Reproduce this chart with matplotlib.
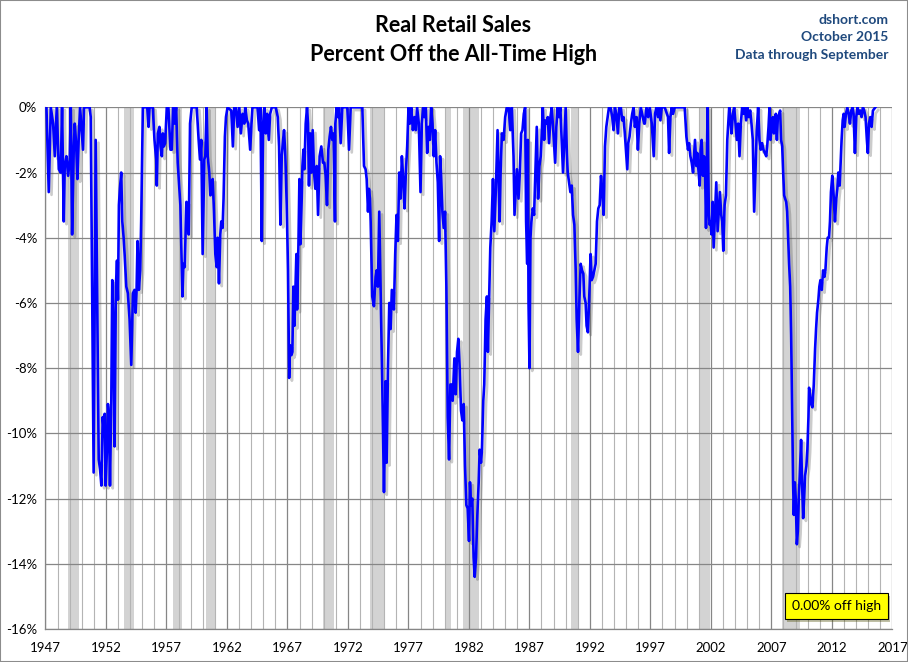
import matplotlib
matplotlib.use("Agg")
import matplotlib.pyplot as plt
import matplotlib.patheffects as pe
from matplotlib.patches import Rectangle
from matplotlib.ticker import MultipleLocator
import numpy as np

plt.rcParams['font.family'] = ['Lato', 'DejaVu Sans']

# --- data (decimal year, % off the all-time high) ---
yr_a = [1947.08, 1947.27, 1947.44, 1947.63, 1947.77, 1947.93, 1948.10, 1948.26, 1948.37, 1948.51,
        1948.59, 1948.73, 1948.87, 1949.01, 1949.09, 1949.20, 1949.34, 1949.42, 1949.53, 1949.64,
        1949.75, 1949.86, 1949.97, 1950.10, 1950.19, 1950.65, 1950.74, 1950.98, 1951.15, 1951.40,
        1951.51, 1951.62, 1951.73, 1951.84, 1951.89, 1951.97, 1952.08, 1952.16, 1952.25, 1952.33,
        1952.44, 1952.52, 1952.63, 1952.71, 1952.82, 1952.91, 1952.99, 1953.07, 1953.15, 1953.26,
        1953.35, 1953.46, 1953.54, 1953.68, 1953.81, 1953.95, 1954.09, 1954.23, 1954.36, 1954.45,
        1954.53, 1954.61, 1954.72, 1954.83, 1954.91, 1955.05, 1955.24, 1955.41, 1955.52, 1955.60,
        1955.87, 1956.01, 1956.15, 1956.20, 1956.29, 1956.42, 1956.51, 1956.62, 1956.70, 1956.78,
        1956.89, 1957.03, 1957.16, 1957.33, 1957.44, 1957.55, 1957.66, 1957.80, 1957.93, 1958.07,
        1958.15, 1958.21, 1958.32, 1958.40, 1958.51, 1958.65, 1958.76, 1958.84]
pct_a = [0, -2.6, 0, -0.5, -1.5, 0, -1.9, -2.0, 0, -3.5,
         -1.8, -1.5, -2.1, -1.6, 0, -3.9, -1.2, -0.5, -1.1, -2.2,
         -0.9, 0, -0.6, -1.3, 0, 0, -0.3, -11.2, -1.0, -10.8,
         -11.1, -11.6, -9.5, -10.0, -9.4, -11.6, -10.5, -9.1, -9.5, -11.6,
         -9.0, -5.3, -7.0, -10.4, -5.5, -4.7, -5.9, -3.0, -2.5, -2.0,
         -3.5, -4.0, -4.5, -5.5, -5.7, -6.5, -7.9, -5.7, -5.6, -6.3,
         -5.6, -4.1, -5.6, -5.0, -3.5, 0, 0, 0, -0.6, 0,
         0, -1.0, -1.6, -2.4, -0.8, -0.6, -1.2, -1.5, -0.8, -1.2,
         -1.1, 0, 0, -1.3, -1.3, 0, -0.5, 0, -1.7, -2.5,
         -3.0, -4.0, -5.8, -4.8, -4.9, -2.9, -3.0, -3.9]

yr_b = [1958.95, 1959.09, 1959.50, 1959.66, 1959.77, 1959.88, 1959.99, 1960.13, 1960.21, 1960.32,
        1960.41, 1960.54, 1960.63, 1960.74, 1960.82, 1960.93, 1961.04, 1961.15, 1961.23, 1961.34,
        1961.45, 1961.53, 1961.64, 1961.72, 1961.83, 1961.92, 1962.05, 1962.36, 1962.49, 1962.60,
        1962.74, 1962.88, 1963.02, 1963.15, 1963.29, 1963.43, 1963.51, 1963.65, 1963.76, 1963.92,
        1964.03, 1964.11, 1964.53, 1964.66, 1964.77, 1964.88, 1964.99, 1965.10, 1965.21, 1965.32,
        1965.46, 1965.57, 1965.71, 1966.04, 1966.20, 1966.31, 1966.42, 1966.53, 1966.64, 1966.72,
        1966.83, 1966.94, 1967.05, 1967.14, 1967.22, 1967.33, 1967.41, 1967.49, 1967.58, 1967.66,
        1967.74, 1967.80, 1967.91, 1967.99, 1968.07, 1968.18, 1968.24, 1968.32, 1968.40, 1968.51,
        1968.62, 1968.70, 1968.78, 1968.89, 1968.98, 1969.09, 1969.20, 1969.31, 1969.42, 1969.53,
        1969.66, 1969.80, 1969.94, 1970.05, 1970.16, 1970.27, 1970.38, 1970.49, 1970.60, 1970.71,
        1970.82, 1970.93]
pct_b = [-0.5, 0, 0, -1.0, -1.6, -1.0, -4.5, -1.6, -1.5, 0,
         -1.5, -2.0, -2.7, -2.6, -2.2, -3.2, -4.5, -4.9, -4.0, -5.4,
         -3.9, -3.5, -3.7, -2.8, -0.9, -0.3, 0, -0.1, -1.2, 0,
         0, -0.6, 0, -0.8, -0.2, -0.5, 0, -0.4, -0.5, -1.3,
         -0.5, 0, 0, -0.7, 0, -4.1, -0.5, 0, -0.8, -0.2,
         -1.0, -0.2, 0, 0, -0.3, -1.2, -3.6, -1.5, -1.0, -0.7,
         -1.5, -3.0, -5.0, -8.3, -7.3, -7.6, -7.5, -5.5, -6.7, -5.6,
         -4.5, -6.2, -4.2, -2.2, -4.2, -2.8, -1.8, -1.3, -1.9, -0.5,
         0, -0.5, -2.4, -0.8, -2.0, -0.7, -2.0, -2.5, -1.8, -3.3,
         -1.5, -1.2, -1.7, -1.7, -2.1, -3.0, -1.3, -0.9, -0.6, -1.0,
         -0.8, -3.5]

yr_c = [1970.96, 1971.07, 1971.18, 1971.27, 1971.40, 1971.54, 1971.95, 1972.09, 1972.23, 1973.19,
        1973.33, 1973.46, 1973.55, 1973.66, 1973.74, 1973.82, 1973.88, 1974.01, 1974.15, 1974.29,
        1974.37, 1974.48, 1974.59, 1974.70, 1974.84, 1974.98, 1975.06, 1975.11, 1975.20, 1975.31,
        1975.42, 1975.53, 1975.63, 1975.74, 1975.80, 1975.91, 1976.02, 1976.13, 1976.24, 1976.35,
        1976.46, 1976.57, 1976.68, 1976.79, 1976.90, 1977.01, 1977.12, 1977.23, 1977.37, 1977.50,
        1977.61, 1977.72, 1977.86, 1978.00, 1978.11, 1978.22, 1978.33, 1978.44, 1978.55, 1978.66,
        1978.77, 1978.88, 1978.99, 1979.10, 1979.21, 1979.32, 1979.43, 1979.54, 1979.62, 1979.70,
        1979.81, 1979.92, 1980.03, 1980.14, 1980.25, 1980.36, 1980.47, 1980.58, 1980.66, 1980.80,
        1980.91, 1981.02, 1981.13, 1981.24, 1981.35, 1981.46, 1981.57, 1981.68, 1981.79, 1981.90,
        1982.01, 1982.09, 1982.17, 1982.28, 1982.39, 1982.48, 1982.59, 1982.70, 1982.81, 1982.89,
        1983.00, 1983.08, 1983.19, 1983.27, 1983.38, 1983.49, 1983.57, 1983.66, 1983.77, 1983.88,
        1983.99, 1984.10, 1984.23, 1984.37, 1984.54]
pct_c = [-0.5, 0, -0.3, 0, -1.1, 0, 0, -1.3, 0, 0,
         -1.8, -1.9, -2.2, -3.2, -2.5, -2.8, -3.5, -5.8, -6.1, -5.2,
         -5.0, -5.5, -3.2, -5.5, -8.5, -11.8, -10.0, -8.4, -10.9, -8.0,
         -6.0, -6.8, -5.6, -6.0, -6.2, -4.5, -3.3, -4.1, -2.0, -2.8,
         -1.5, -2.2, -3.1, -2.0, -1.2, 0, -0.5, 0, -0.7, -0.3,
         -0.7, 0, -0.5, -2.6, -0.5, 0, -0.3, 0, -1.4, -0.6,
         -1.0, 0, -0.5, -1.5, -0.7, -1.7, -2.3, -4.1, -1.5, -2.1,
         -3.2, -3.7, -3.2, -5.5, -9.5, -10.8, -8.5, -8.5, -9.0, -7.7,
         -8.8, -7.5, -7.1, -8.0, -9.3, -9.6, -9.1, -11.0, -12.2, -12.3,
         -13.3, -11.5, -12.2, -12.0, -13.8, -14.4, -13.8, -12.5, -11.5, -10.5,
         -10.9, -10.5, -9.0, -8.5, -6.5, -5.8, -7.5, -6.0, -4.3, -3.5,
         -2.2, -3.8, -2.5, -0.7, -3.5]

yr_d = [1984.62, 1984.73, 1984.87, 1985.00, 1985.14, 1985.28, 1985.42, 1985.55, 1985.69, 1985.77,
        1985.88, 1985.97, 1986.10, 1986.21, 1986.32, 1986.43, 1986.54, 1986.65, 1986.73, 1986.82,
        1986.87, 1986.93, 1987.01, 1987.09, 1987.17, 1987.28, 1987.39, 1987.50, 1987.61, 1987.72,
        1987.83, 1987.94, 1988.03, 1988.11, 1988.22, 1988.30, 1988.44, 1988.52, 1988.63, 1988.74,
        1988.85, 1988.99, 1989.13, 1989.23, 1989.34, 1989.45, 1989.56, 1989.67, 1989.78, 1989.89,
        1990.00, 1990.09, 1990.17, 1990.28, 1990.39, 1990.50, 1990.61, 1990.72, 1990.83, 1990.91,
        1991.02, 1991.13, 1991.24, 1991.35, 1991.46, 1991.54, 1991.65, 1991.73, 1991.84, 1991.95,
        1992.06, 1992.15, 1992.26, 1992.37, 1992.48, 1992.59, 1992.70, 1992.81, 1992.92, 1993.03,
        1993.14, 1993.25, 1993.36, 1993.47, 1993.58, 1993.71, 1993.85, 1993.96, 1994.07, 1994.18,
        1994.32, 1994.43, 1994.56, 1994.67, 1994.78, 1994.89, 1995.00, 1995.09, 1995.17, 1995.28,
        1995.39, 1995.50, 1995.61, 1995.72, 1995.86, 1995.97, 1996.08, 1996.21, 1996.38, 1996.49]
pct_d = [-2.0, -0.8, -1.0, -0.3, 0, 0, -0.7, 0, -1.5, -3.3,
         -2.5, -1.9, -2.8, -2.0, -0.8, -0.7, -0.2, 0, -3.5, -4.8,
         -1.0, -6.0, -8.0, -4.0, -3.5, -3.1, -3.3, -2.0, -0.6, -2.8,
         -1.8, -1.5, -0.8, 0, -1.0, -0.4, -0.5, -0.3, -1.1, -0.3,
         0, -0.8, -1.7, -0.6, 0, -0.3, 0, -1.0, -2.0, -1.0,
         0, -1.3, -2.0, -2.3, -2.6, -2.4, -3.3, -3.6, -5.0, -6.5,
         -7.5, -6.0, -4.8, -5.0, -5.1, -5.8, -6.0, -6.7, -6.9, -5.8,
         -4.5, -5.3, -5.2, -5.0, -4.8, -3.5, -3.1, -3.0, -2.1, -2.6,
         -3.3, -1.2, -0.6, -0.3, 0, 0, -0.3, -0.7, 0, -0.2,
         -0.8, 0, 0, -0.4, -0.3, -0.8, -1.4, -1.9, -1.1, -0.9,
         -0.5, -0.2, 0, -0.6, -0.3, -1.3, -0.5, 0, -0.3, -0.5]

yr_e = [1996.54, 1996.68, 1996.82, 1996.95, 1997.12, 1997.28, 1997.39, 1997.50, 1997.64, 1997.72,
        1997.83, 1997.94, 1998.19, 1998.46, 1998.55, 1998.66, 1998.77, 1998.88, 1999.01, 1999.84,
        1999.98, 2000.11, 2000.20, 2000.31, 2000.42, 2000.53, 2000.61, 2000.69, 2000.80, 2000.88,
        2000.97, 2001.08, 2001.16, 2001.24, 2001.35, 2001.43, 2001.51, 2001.60, 2001.65, 2001.73,
        2001.79, 2001.84, 2001.90, 2001.98, 2002.06, 2002.15, 2002.23, 2002.34, 2002.45, 2002.56,
        2002.64, 2002.75, 2002.86, 2002.94, 2003.03, 2003.14, 2003.25, 2003.36, 2003.44, 2003.52,
        2003.60, 2003.71, 2003.82, 2003.93, 2004.04, 2004.15, 2004.26, 2004.37, 2004.48, 2004.59,
        2004.70, 2004.81, 2004.92, 2005.03, 2005.14, 2005.25, 2005.36, 2005.47, 2005.58, 2005.69,
        2005.80, 2005.91, 2006.02, 2006.13, 2006.24, 2006.35, 2006.46]
pct_e = [-0.5, 0, -0.3, 0, -0.5, -1.5, -0.2, 0, -0.3, 0,
         -0.4, 0, 0, -0.3, -1.4, -0.3, 0, -0.2, 0, 0,
         -0.9, -1.3, -1.1, -1.5, -1.7, -2.0, -1.5, -1.0, -1.8, -1.4,
         -1.9, -2.4, -1.3, -1.0, -2.1, -1.5, -1.6, -3.7, -2.5, 0,
         -2.0, -3.3, -3.6, -3.5, -3.9, -2.9, -4.3, -3.3, -2.3, -3.8,
         -3.3, -2.6, -3.3, -3.5, -4.4, -3.0, -2.7, -1.0, -0.5, 0,
         -0.3, -0.8, -0.2, 0, -0.5, -1.0, -0.5, -1.5, -0.5, 0,
         -0.2, 0, -0.4, 0, -0.3, -0.1, -0.5, -1.0, -3.2, -2.0,
         -0.7, 0, -1.0, -1.3, -1.1, -1.3, -1.4]

yr_f = [2006.58, 2006.66, 2006.77, 2006.85, 2006.93, 2007.04, 2007.13, 2007.21, 2007.29, 2007.37,
        2007.46, 2007.54, 2007.65, 2007.73, 2007.81, 2007.90, 2007.98, 2008.06, 2008.14, 2008.23,
        2008.31, 2008.39, 2008.47, 2008.56, 2008.64, 2008.72, 2008.80, 2008.86, 2008.94, 2009.02,
        2009.11, 2009.19, 2009.27, 2009.35, 2009.46, 2009.54, 2009.63, 2009.71, 2009.79, 2009.90,
        2009.98, 2010.07, 2010.12, 2010.20, 2010.29, 2010.40, 2010.51, 2010.62, 2010.70, 2010.78,
        2010.89, 2010.97, 2011.06, 2011.17, 2011.28, 2011.39, 2011.47, 2011.58, 2011.66, 2011.77,
        2011.85, 2011.93, 2012.04, 2012.15, 2012.26, 2012.37, 2012.46, 2012.54, 2012.65, 2012.73,
        2012.81, 2012.90, 2012.98, 2013.06, 2013.17, 2013.28, 2013.39, 2013.50, 2013.61, 2013.72,
        2013.80, 2013.91, 2014.02, 2014.13, 2014.24, 2014.35, 2014.46, 2014.57, 2014.68, 2014.79,
        2014.90, 2014.98, 2015.07, 2015.18, 2015.29, 2015.40, 2015.60]
pct_f = [-1.5, -1.2, -0.6, 0, -1.0, -0.5, -0.3, -0.8, -0.7, -0.2,
         -1.0, -0.3, -0.2, -0.1, -1.0, -1.2, -2.0, -2.7, -2.8, -2.9,
         -3.2, -4.0, -4.8, -5.5, -7.0, -9.3, -11.5, -12.5, -11.5, -12.0,
         -13.4, -13.0, -12.0, -11.3, -10.2, -11.5, -12.6, -12.0, -11.3, -11.0,
         -10.5, -9.5, -8.6, -8.8, -9.1, -9.2, -8.5, -7.4, -6.8, -6.3,
         -5.9, -5.5, -5.3, -5.6, -5.0, -5.2, -5.0, -4.3, -4.0, -4.0,
         -3.5, -2.6, -2.1, -2.7, -3.5, -2.8, -2.5, -2.0, -2.4, -1.7,
         -1.0, -0.4, -0.2, -0.6, -0.2, 0, -0.2, -0.5, -0.1, 0,
         -0.2, -1.4, -0.3, 0, -0.2, -0.1, -0.3, 0, -0.1, -0.3,
         -1.0, -1.4, -0.5, -0.3, -0.6, -0.1, 0]

# recession shading (start, end), as drawn
rec_start = [1948.84, 1953.49, 1957.55, 1960.25, 1969.98, 1973.84, 1979.99, 1981.51, 1990.47, 2001.05, 2007.89]
rec_end = [1949.77, 1954.34, 1958.27, 1961.02, 1970.89, 1975.08, 1980.52, 1982.80, 1991.07, 2001.96, 2009.35]

x_ticks = list(range(1947, 2018, 5))
y_ticks = [0, -2, -4, -6, -8, -10, -12, -14, -16]
y_labels = ['0%', '-2%', '-4%', '-6%', '-8%', '-10%', '-12%', '-14%', '-16%']
latest = "0.00% off high"

years = np.concatenate([yr_a, yr_b, yr_c, yr_d, yr_e, yr_f])
pct = np.concatenate([pct_a, pct_b, pct_c, pct_d, pct_e, pct_f])

fig = plt.figure(figsize=(9.08, 6.62), dpi=100)
ax = fig.add_axes([0.0501, 0.0498, 0.9326, 0.7881])

for s, e in zip(rec_start, rec_end):
    ax.axvspan(s, e, color='#d3d3d3', lw=0, zorder=0.3)

ax.plot(years, pct, color='#0000ff', lw=1.9, zorder=3,
        path_effects=[pe.SimpleLineShadow(offset=(2, -2), shadow_color='#555555', alpha=0.3),
                      pe.Normal()])

ax.set_xlim(1947, 2017)
ax.set_ylim(-16, 0)
ax.set_xticks(x_ticks)
ax.set_xticklabels([str(y) for y in x_ticks])
ax.xaxis.set_minor_locator(MultipleLocator(1))
ax.set_yticks(y_ticks)
ax.set_yticklabels(y_labels)

ax.set_axisbelow(True)
ax.grid(which='major', axis='both', color='#868686', lw=0.9)
ax.grid(which='minor', axis='x', color='#b4b4b4', lw=0.8)
ax.tick_params(which='both', length=0, labelsize=9.5, colors='black')
ax.tick_params(axis='x', pad=9)
ax.tick_params(axis='y', pad=6)
for side in ['top', 'right']:
    ax.spines[side].set_visible(False)
for side in ['left', 'bottom']:
    ax.spines[side].set_color('#868686')
    ax.spines[side].set_linewidth(0.9)

fig.text(0.499, 0.961, "Real Retail Sales", ha='center', va='center',
         fontsize=15.5, fontweight='bold', color='black')
fig.text(0.499, 0.917, "Percent Off the All-Time High", ha='center', va='center',
         fontsize=15.5, fontweight='bold', color='black')

for txt, yy in zip(["dshort.com", "October 2015", "Data through September"], [0.970, 0.944, 0.917]):
    fig.text(0.978, yy, txt, ha='right', va='center', fontsize=10,
             fontweight='bold', color='#1f497d')

note = ax.text(2012.36, -15.29, latest, ha='center', va='center', fontsize=10, color='black',
               zorder=5,
               bbox=dict(boxstyle='square,pad=0.5', fc='#ffff00', ec='black', lw=0.8))
note.get_bbox_patch().set_path_effects([pe.SimplePatchShadow(offset=(2, -2), alpha=0.35),
                                        pe.Normal()])

fig.patches.append(Rectangle((0, 0), 1, 1, transform=fig.transFigure, fill=False,
                             ec='#8c8c8c', lw=1.5))

fig.savefig("out.png", dpi=100)
